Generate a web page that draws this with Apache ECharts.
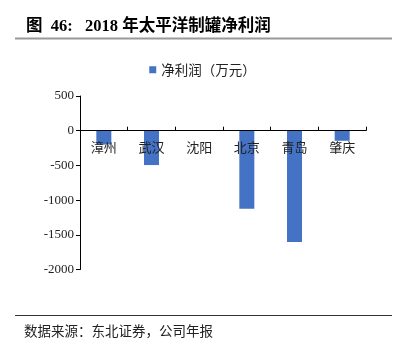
<!DOCTYPE html>
<html>
<head>
<meta charset="utf-8">
<script src="https://cdn.jsdelivr.net/npm/echarts@6/dist/echarts.min.js"></script>
<style>
html,body{margin:0;padding:0;background:#fff;}
#chart{width:405px;height:350px;}
</style>
</head>
<body>
<div id="chart"></div>
<script>
const titleText = '图  46:   2018 年太平洋制罐净利润';
const sourceText = '数据来源：东北证券，公司年报';
const seriesName = '净利润（万元）';
const categories = ['漳州', '武汉', '沈阳', '北京', '青岛', '肇庆'];
const profitValues = [-200, -495, 0, -1125, -1605, -145];
const yMin = -2000, yMax = 500, yInterval = 500;

const gridTop = 96, gridBottom = 80.5, chartH = 350;
const plotH = chartH - gridTop - gridBottom;
// distance from bottom of plot to zero line (for placing the category axis on zero)
const zeroOffset = plotH * (0 - yMin) / (yMax - yMin);

const chart = echarts.init(document.getElementById('chart'));
chart.setOption({
  animation: false,
  backgroundColor: '#fff',
  graphic: [
    { type: 'text', left: 26, top: 18, style: { text: titleText, font: 'bold 16.5px "Liberation Serif", "Noto Sans CJK SC"', fill: '#000' } },
    { type: 'line', shape: { x1: 15, y1: 38.5, x2: 392, y2: 38.5 }, style: { stroke: '#999', lineWidth: 2 } },
    { type: 'line', shape: { x1: 15, y1: 315.5, x2: 392, y2: 315.5 }, style: { stroke: '#333', lineWidth: 1 } },
    { type: 'text', left: 24, top: 324, style: { text: sourceText, font: '13.5px "Noto Sans CJK SC"', fill: '#222' } }
  ],
  legend: {
    data: [seriesName],
    top: 58,
    left: 'center',
    icon: 'rect',
    itemWidth: 7,
    itemHeight: 7,
    itemGap: 4,
    textStyle: { fontFamily: 'Noto Sans CJK SC', fontSize: 13.5, color: '#222' }
  },
  grid: { left: 80, right: 39, top: gridTop, bottom: gridBottom, containLabel: false },
  xAxis: {
    type: 'category',
    data: categories,
    position: 'bottom',
    offset: -zeroOffset,
    z: 5,
    axisLine: { onZero: false, lineStyle: { color: '#000', width: 1 } },
    axisTick: { show: true, inside: true, length: 4, lineStyle: { color: '#000' } },
    axisLabel: { margin: 10, fontFamily: 'Noto Sans CJK SC', fontSize: 13, color: '#222' },
    splitLine: { show: false }
  },
  yAxis: {
    type: 'value',
    min: yMin,
    max: yMax,
    interval: yInterval,
    axisLine: { show: true, lineStyle: { color: '#000', width: 1 } },
    axisTick: { show: true, length: 4, lineStyle: { color: '#000' } },
    axisLabel: { margin: 6, fontFamily: 'Liberation Serif', fontSize: 13, color: '#222', formatter: v => String(v) },
    splitLine: { show: false }
  },
  series: [{
    name: seriesName,
    type: 'bar',
    data: profitValues,
    barWidth: 15,
    itemStyle: { color: '#4472C4' }
  }]
});
</script>
</body>
</html>
